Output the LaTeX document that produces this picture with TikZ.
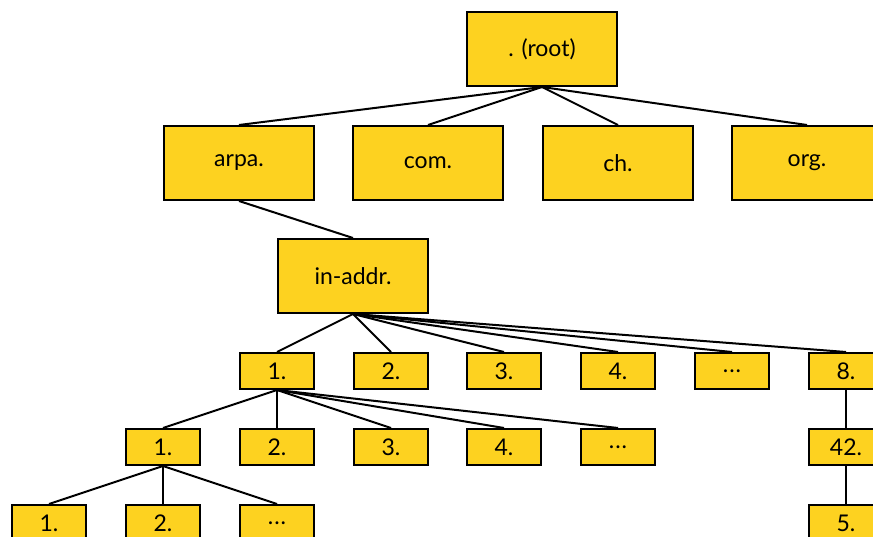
\documentclass[tikz,border=0pt]{standalone}
\usepackage{fontspec}
\setmainfont{Lato}
\definecolor{boxfill}{RGB}{253,210,32}
\tikzset{
  every node/.style={font=\fontsize{23}{26}\selectfont},
  bigbox/.style={draw=black, line width=2pt, fill=boxfill, minimum width=150pt, minimum height=74pt, inner sep=0pt},
  smallbox/.style={draw=black, line width=2pt, fill=boxfill, minimum width=74pt, minimum height=36pt, inner sep=0pt},
  link/.style={draw=black, line width=2pt}
}
\begin{document}
\begin{tikzpicture}[x=1pt, y=-1pt]
  \useasboundingbox (0,0) rectangle (873,537);
  \clip (0,0) rectangle (873,537);

  % top levels
  \node[bigbox] (root) at (542,49) {. (root)};
  \node[bigbox] (arpa) at (239,163) {arpa.};
  \node[bigbox] (com)  at (428,163) {com.};
  \node[bigbox] (ch)   at (618,163) {ch.};
  \node[bigbox] (org)  at (807,163) {org.};
  \node[bigbox] (inaddr) at (353,276) {in-addr.};

  % first octet
  \node[smallbox] (a1) at (277,371) {1.};
  \node[smallbox] (a2) at (391,371) {2.};
  \node[smallbox] (a3) at (504,371) {3.};
  \node[smallbox] (a4) at (618,371) {4.};
  \node[smallbox] (a5) at (732,371) {.\kern1pt.\kern1pt.};
  \node[smallbox] (a8) at (846,371) {8.};

  % second octet
  \node[smallbox] (b1) at (163,447) {1.};
  \node[smallbox] (b2) at (277,447) {2.};
  \node[smallbox] (b3) at (391,447) {3.};
  \node[smallbox] (b4) at (504,447) {4.};
  \node[smallbox] (b5) at (618,447) {.\kern1pt.\kern1pt.};
  \node[smallbox] (b42) at (846,447) {42.};

  % third octet
  \node[smallbox] (c1) at (49,523) {1.};
  \node[smallbox] (c2) at (163,523) {2.};
  \node[smallbox] (c3) at (277,523) {.\kern1pt.\kern1pt.};
  \node[smallbox] (c5) at (846,523) {5.};

  % tree edges
  \foreach \p/\c in {root/arpa, root/com, root/ch, root/org, arpa/inaddr,
                     inaddr/a1, inaddr/a2, inaddr/a3, inaddr/a4, inaddr/a5, inaddr/a8,
                     a1/b1, a1/b2, a1/b3, a1/b4, a1/b5, a8/b42,
                     b1/c1, b1/c2, b1/c3, b42/c5}
    \draw[link] (\p.south) -- (\c.north);
\end{tikzpicture}
\end{document}
